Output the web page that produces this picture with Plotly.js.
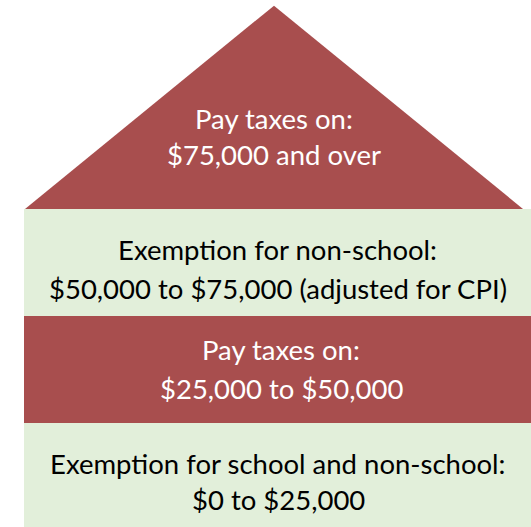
<!DOCTYPE html>
<html>
<head>
<meta charset="utf-8">
<script src="https://cdn.plot.ly/plotly-3.0.1.min.js"></script>
<style>html,body{margin:0;padding:0;background:#fff;}#chart{width:531px;height:527px;}</style>
</head>
<body>
<div id="chart"></div>
<script>
// ---- data ----
const tierTitles = ["Exemption for school and non-school:", "Pay taxes on:", "Exemption for non-school:", "Pay taxes on:"];
const tierRanges = ["$0 to $25,000", "$25,000 to $50,000", "$50,000 to $75,000 (adjusted for CPI)", "$75,000 and over"];
const tierKinds = ["exempt", "taxed", "exempt", "taxed"];
const tierLevels = [0, 1, 2, 3];

// ---- styling / geometry (not data) ----
const RED = "#A84E4E", GREEN = "#E2EFDA";
const FONT = "Lato, sans-serif", FSIZE = 27.5;
const bandCenter = 282, bandWidth = 516;
const roofLeft = 25, roofApex = 274, roofRight = 523, roofHeight = 1.9;
const textX = [278, 281, 277.5, 274];
const line1Off = [0.621, 0.687, 0.621, 0.846];
const line2Off = [0.285, 0.322, 0.257, 0.509];

const bandIdx = [0, 1, 2];
const bars = {
  type: "bar",
  x: bandIdx.map(() => bandCenter),
  y: bandIdx.map(() => 1),
  base: bandIdx.map(i => tierLevels[i]),
  width: bandIdx.map(() => bandWidth),
  marker: {color: bandIdx.map(i => tierKinds[i] === "taxed" ? RED : GREEN), line: {width: 0}},
  hoverinfo: "skip", showlegend: false
};
const roofBase = tierLevels[3];
const roof = {
  type: "scatter", mode: "lines",
  x: [roofLeft, roofApex, roofRight, roofLeft],
  y: [roofBase, roofBase + roofHeight, roofBase, roofBase],
  fill: "toself", fillcolor: tierKinds[3] === "taxed" ? RED : GREEN,
  line: {width: 0, color: RED},
  hoverinfo: "skip", showlegend: false
};

const annotations = [];
tierLevels.forEach((lv, i) => {
  const col = tierKinds[i] === "taxed" ? "#FFFFFF" : "#000000";
  annotations.push({x: textX[i], y: lv + line1Off[i], xref: "x", yref: "y", text: tierTitles[i], showarrow: false,
    xanchor: "center", yanchor: "middle", font: {family: FONT, size: FSIZE, color: col}});
  annotations.push({x: textX[i], y: lv + line2Off[i], xref: "x", yref: "y", text: tierRanges[i], showarrow: false,
    xanchor: "center", yanchor: "middle", font: {family: FONT, size: FSIZE, color: col}});
});

const layout = {
  width: 531, height: 527,
  margin: {l: 0, r: 0, t: 0, b: 0, pad: 0},
  paper_bgcolor: "#FFFFFF", plot_bgcolor: "#FFFFFF",
  barmode: "overlay", bargap: 0,
  xaxis: {range: [0, 531], visible: false, fixedrange: true},
  yaxis: {range: [0.028, 4.953], visible: false, fixedrange: true},
  annotations: annotations,
  showlegend: false
};
Plotly.newPlot("chart", [bars, roof], layout, {staticPlot: true, displayModeBar: false});
</script>
</body>
</html>
